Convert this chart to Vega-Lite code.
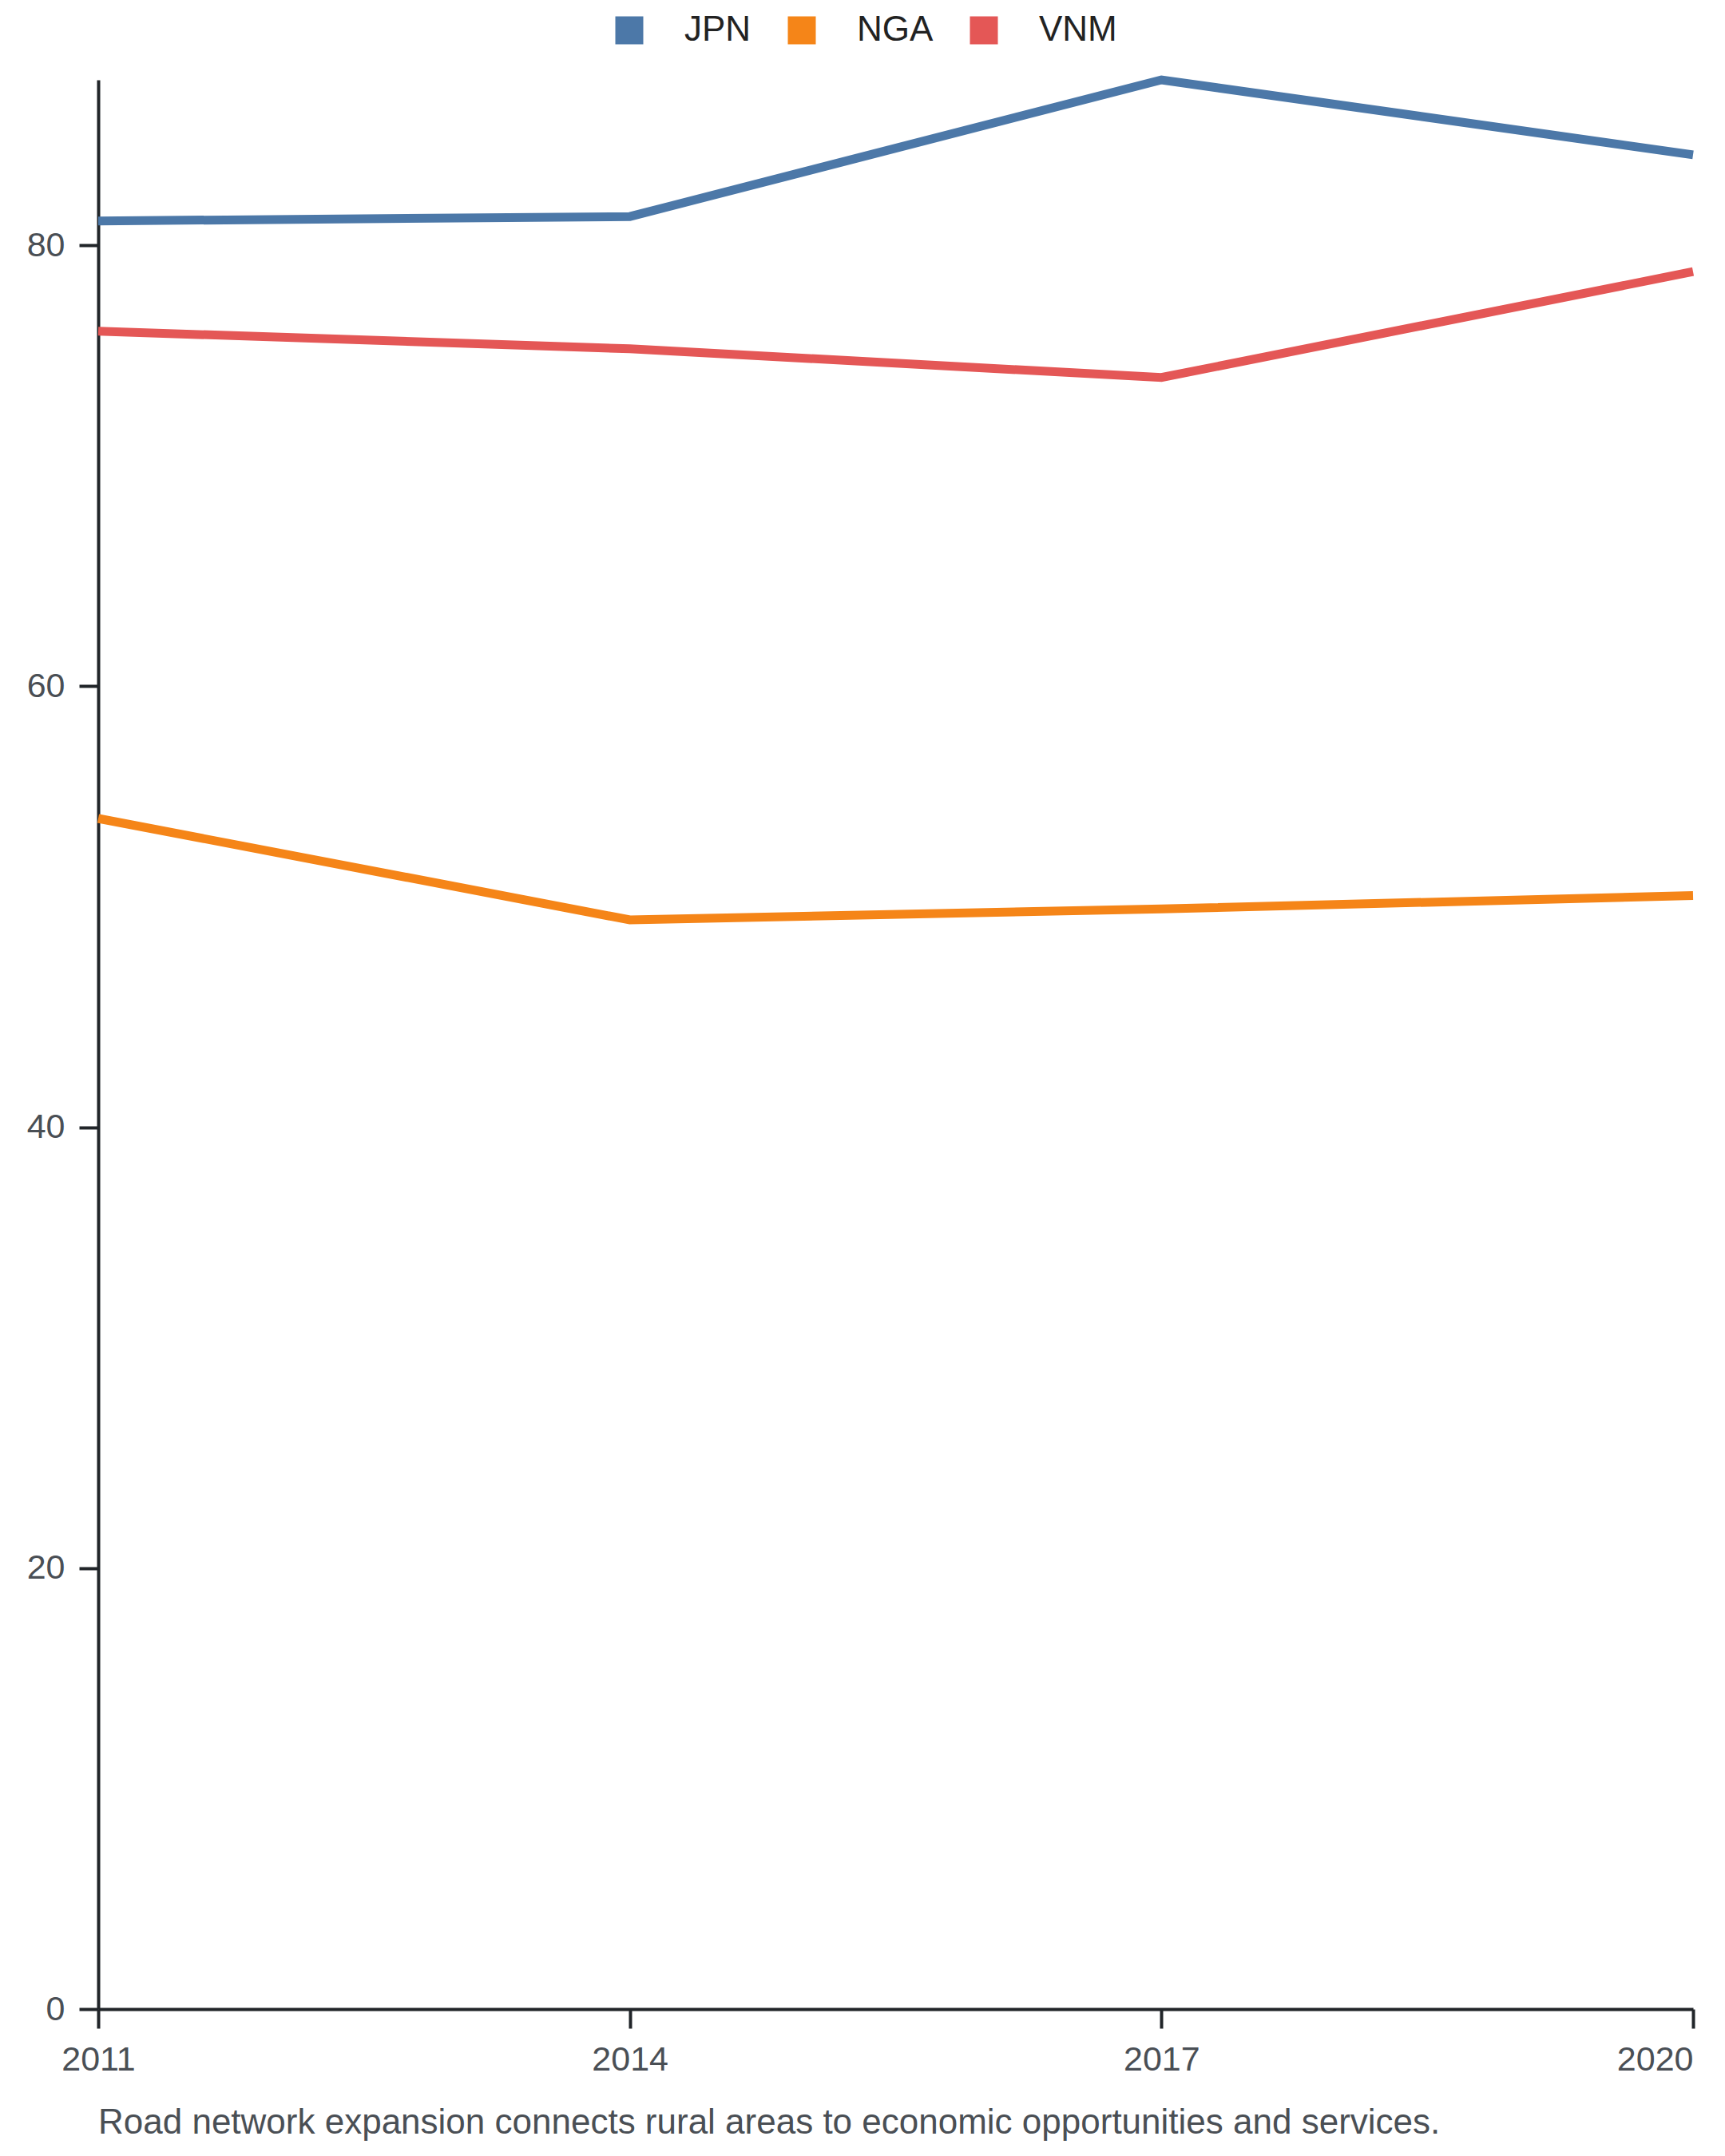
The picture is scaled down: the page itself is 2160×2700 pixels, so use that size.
{
  "$schema": "https://vega.github.io/schema/vega-lite/v6.json",
  "width": 1997,
  "height": 2416,
  "autosize": "none",
  "padding": {"left": 123, "top": 100, "right": 40, "bottom": 184},
  "background": "white",
  "title": {
    "text": "Road network expansion connects rural areas to economic opportunities and services.",
    "orient": "bottom",
    "anchor": "start",
    "frame": "group",
    "offset": 36
  },
  "data": {
    "values": [
      {"country": "JPN", "year": 2011, "value": 81.1},
      {"country": "JPN", "year": 2014, "value": 81.3},
      {"country": "JPN", "year": 2017, "value": 87.5},
      {"country": "JPN", "year": 2020, "value": 84.1},
      {"country": "NGA", "year": 2011, "value": 54.0},
      {"country": "NGA", "year": 2014, "value": 49.4},
      {"country": "NGA", "year": 2017, "value": 49.9},
      {"country": "NGA", "year": 2020, "value": 50.5},
      {"country": "VNM", "year": 2011, "value": 76.1},
      {"country": "VNM", "year": 2014, "value": 75.3},
      {"country": "VNM", "year": 2017, "value": 74.0},
      {"country": "VNM", "year": 2020, "value": 78.8}
    ]
  },
  "mark": {"type": "line", "strokeWidth": 11, "strokeCap": "butt"},
  "encoding": {
    "x": {
      "field": "year",
      "type": "quantitative",
      "scale": {"domain": [2011, 2020], "nice": false, "zero": false},
      "axis": {
        "values": [2011, 2014, 2017, 2020],
        "format": "d",
        "title": null,
        "grid": false,
        "labelPadding": 18,
        "labelAlign": {"condition": {"test": "datum.value == 2020", "value": "right"}, "value": "center"}
      }
    },
    "y": {
      "field": "value",
      "type": "quantitative",
      "scale": {"domain": [0, 87.5], "nice": false},
      "axis": {"values": [0, 20, 40, 60, 80], "title": null, "grid": false, "labelPadding": 18}
    },
    "color": {
      "field": "country",
      "type": "nominal",
      "scale": {"domain": ["JPN", "NGA", "VNM"], "range": ["#4c78a8", "#f58518", "#e45756"]},
      "legend": {
        "orient": "none",
        "legendX": 643,
        "legendY": -84,
        "title": null,
        "direction": "horizontal",
        "symbolType": "square",
        "symbolSize": 1225,
        "symbolStrokeWidth": 0,
        "labelFontSize": 44,
        "labelColor": "#222222",
        "labelOffset": 47,
        "columnPadding": 41,
        "encode": {
          "symbols": {"update": {"fill": {"scale": "color", "field": "value"}, "fillOpacity": {"value": 1}}}
        }
      }
    }
  },
  "config": {
    "font": "Liberation Sans",
    "view": {"stroke": null},
    "title": {"fontSize": 44, "fontWeight": "normal", "color": "#4a4f55"},
    "axis": {
      "domainColor": "#212529",
      "domainWidth": 4,
      "tickColor": "#212529",
      "tickWidth": 4,
      "tickSize": 24,
      "labelFontSize": 43,
      "labelColor": "#4a4f55"
    }
  }
}
